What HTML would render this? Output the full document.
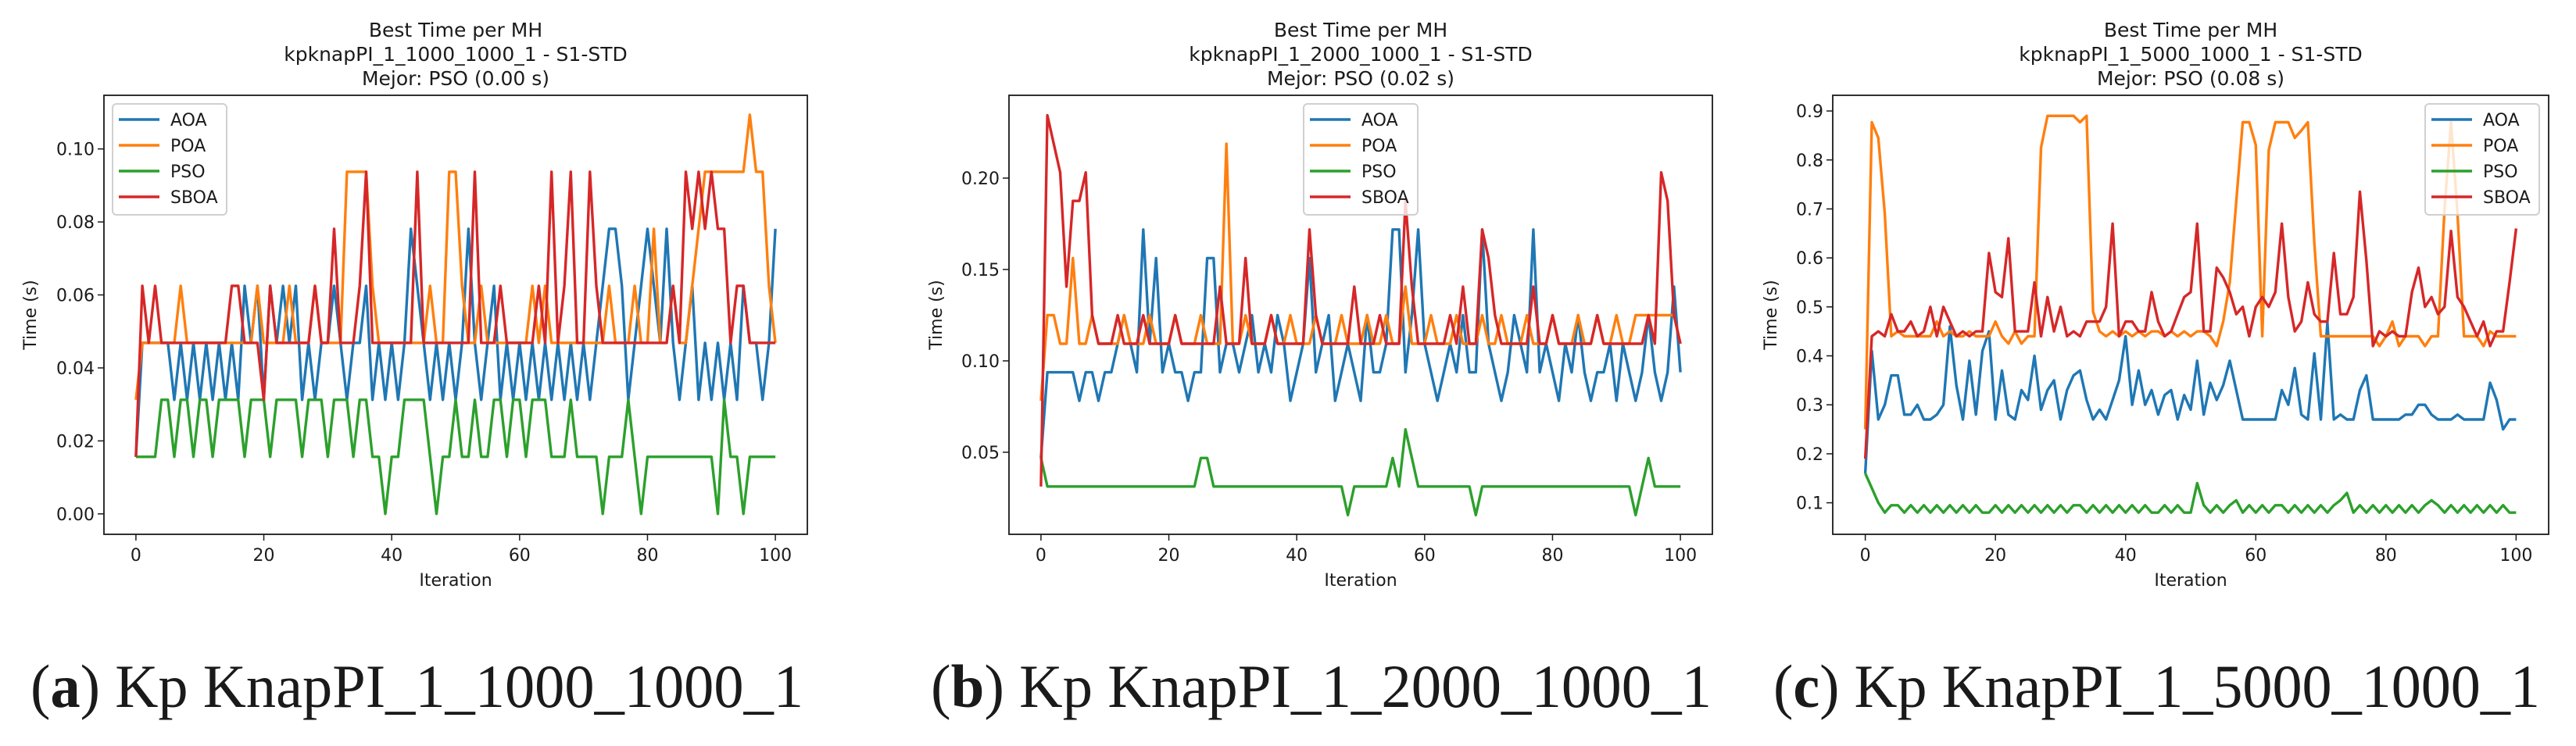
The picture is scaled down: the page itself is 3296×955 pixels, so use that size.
<!DOCTYPE html>
<html><head><meta charset="utf-8"><title>Best Time per MH</title>
<style>html,body{margin:0;padding:0;background:#fff;}svg{display:block;}</style></head>
<body>
<svg id="fig" xmlns="http://www.w3.org/2000/svg" width="3296" height="955" viewBox="0 0 3296 955">
<rect x="0" y="0" width="3296" height="955" fill="#fff"/>
</svg>
<script>
const iterations = Array.from({length:101},(_, i)=>i);
const seriesNames = ["AOA","POA","PSO","SBOA"];
const Q = 1/64;
// Panel (a) values in units of Q seconds
const p1AOA = [1,3,3,3,3,3,2,3,2,3, 2,3,2,3,2,3,2,4,3,4, 2,4,3,4,3,4,2,3,2,3, 3,4,3,2,3,3,4,2,3,2, 3,2,3,5,4,3,2,3,2,3, 2,3,5,3,2,3,4,2,3,2, 3,2,3,2,3,2,3,2,3,2, 3,2,3,4,5,5,4,2,3,4, 5,4,3,5,3,2,3,4,2,3, 2,3,2,3,2,4,3,3,2,3, 5];
const p1POA = [2,3,3,3,3,3,3,4,3,3, 3,3,3,3,3,3,3,3,3,4, 3,3,3,3,4,3,3,3,4,3, 3,3,3,6,6,6,6,4,3,3, 3,3,3,3,3,3,4,3,3,6, 6,4,3,3,4,3,3,3,3,3, 3,3,4,3,4,3,3,3,3,3, 3,3,3,3,4,3,3,3,4,3, 3,5,3,3,4,3,3,4,5,6, 6,6,6,6,6,6,7,6,6,4, 3];
const p1PSO = [1,1,1,1,2,2,1,2,2,1, 2,2,1,2,2,2,2,1,2,2, 2,1,2,2,2,2,1,2,2,2, 1,2,2,2,1,2,2,1,1,0, 1,1,2,2,2,2,1,0,1,1, 2,1,1,2,1,1,2,2,1,2, 2,1,2,2,2,1,1,1,2,1, 1,1,1,0,1,1,1,2,1,0, 1,1,1,1,1,1,1,1,1,1, 1,0,2,1,1,0,1,1,1,1, 1];
const p1SBOA = [1,4,3,4,3,3,3,3,3,3, 3,3,3,3,3,4,4,3,3,3, 2,4,3,3,3,3,3,3,4,3, 3,5,3,3,3,4,6,3,3,3, 3,3,3,3,6,3,3,3,3,3, 3,3,3,6,3,3,3,4,3,3, 3,3,3,4,3,6,3,4,6,3, 3,6,4,3,3,3,3,3,3,3, 3,3,3,3,4,3,6,5,6,5, 6,5,5,3,4,4,3,3,3,3, 3];
// Panel (b) values in units of Q seconds
const p2AOA = [3,6,6,6,6,6,5,6,6,5, 6,6,7,8,7,6,11,7,10,6, 7,6,6,5,6,6,10,10,6,7, 7,6,7,8,6,7,6,8,7,5, 6,7,10,6,7,8,5,6,7,6, 5,8,6,6,7,11,11,6,8,11, 7,6,5,6,7,6,8,6,6,11, 7,6,5,6,8,7,6,11,6,7, 6,5,7,6,8,6,5,6,6,7, 5,7,6,5,6,8,6,5,6,9, 6];
const p2POA = [5,8,8,7,7,10,7,7,8,7, 7,7,7,8,7,7,7,8,7,7, 7,8,7,7,7,8,7,7,7,14, 7,7,8,7,7,7,8,7,7,8, 7,7,7,8,7,7,7,8,7,7, 7,8,7,7,8,7,7,9,7,7, 7,8,7,7,7,8,7,7,7,8, 7,7,8,7,7,7,8,7,7,7, 8,7,7,7,8,7,7,8,7,7, 8,7,7,8,8,8,8,8,8,8, 7];
const p2PSO = [3,2,2,2,2,2,2,2,2,2, 2,2,2,2,2,2,2,2,2,2, 2,2,2,2,2,3,3,2,2,2, 2,2,2,2,2,2,2,2,2,2, 2,2,2,2,2,2,2,2,1,2, 2,2,2,2,2,3,2,4,3,2, 2,2,2,2,2,2,2,2,1,2, 2,2,2,2,2,2,2,2,2,2, 2,2,2,2,2,2,2,2,2,2, 2,2,2,1,2,3,2,2,2,2, 2];
const p2SBOA = [2,15,14,13,9,12,12,13,8,7, 7,7,8,7,7,7,8,7,7,7, 7,8,7,7,7,7,7,7,9,7, 7,7,10,7,7,7,8,7,7,7, 7,7,11,8,7,7,7,7,7,9, 7,7,7,8,7,7,7,12,9,7, 7,7,7,7,8,7,9,7,7,11, 10,8,7,7,7,7,7,9,7,7, 8,7,7,7,7,7,7,8,7,7, 7,7,7,7,7,8,7,13,12,8, 7];
// Panel (c) values in seconds
const p3AOA = [0.16,0.41,0.27,0.30,0.36,0.36,0.28,0.28,0.30,0.27, 0.27,0.28,0.30,0.46,0.34,0.27,0.39,0.28,0.41,0.45, 0.27,0.37,0.28,0.27,0.33,0.31,0.40,0.29,0.33,0.35, 0.27,0.33,0.36,0.37,0.31,0.27,0.29,0.27,0.31,0.35, 0.44,0.30,0.37,0.30,0.33,0.28,0.32,0.33,0.27,0.32, 0.29,
 0.39,0.28,0.345,0.31,0.34,0.39,0.33,0.27,0.27,0.27, 0.27,0.27,0.27,0.33,0.30,0.375,0.28,0.27,0.405,0.27, 0.468,0.27,0.28,0.27,0.27,0.33,0.36,0.27,0.27,0.27, 0.27,0.27,0.28,0.28,0.30,0.30,0.28,0.27,0.27,0.27, 0.28,0.27,0.27,0.27,0.27,0.345,0.31,0.25,0.27,0.27];
const p3POA = [0.25,0.877,0.845,0.69,0.44,0.45,0.44,0.44,0.44,0.44, 0.44,0.47,0.44,0.45,0.44,0.44,0.45,0.44,0.44,0.44, 0.47,0.44,0.425,0.45,0.425,0.44,0.44,0.825,0.89,0.89, 0.89,0.89,0.89,0.877,0.89,0.49,0.45,0.44,0.45,0.44, 0.45,0.44,0.45,0.44,0.45,0.45,0.44,0.45,0.44,0.45, 0.44,
 0.45,0.45,0.44,0.42,0.47,0.55,0.715,0.877,0.877,0.83, 0.44,0.82,0.877,0.877,0.877,0.845,0.86,0.877,0.63,0.44, 0.44,0.44,0.44,0.44,0.44,0.44,0.44,0.44,0.42,0.44, 0.47,0.42,0.44,0.44,0.44,0.42,0.44,0.44,0.70,0.877, 0.69,0.44,0.44,0.44,0.42,0.45,0.44,0.44,0.44,0.44];
const p3PSO = [0.16,0.13,0.10,0.08,0.095,0.095,0.08,0.095,0.08,0.095, 0.08,0.095,0.08,0.095,0.08,0.095,0.08,0.095,0.08,0.08, 0.095,0.08,0.095,0.08,0.095,0.08,0.095,0.08,0.095,0.08, 0.095,0.08,0.095,0.095,0.08,0.095,0.08,0.095,0.08,0.095, 0.08,0.095,0.08,0.095,0.08,0.08,0.095,0.08,0.095,0.08, 0.08,0.14,0.095,0.08,0.095,0.08,0.095,0.105,0.08,0.095, 0.08,0.095,0.08,0.095,0.095,0.08,0.095,0.08,0.095,0.08, 0.095,0.08,0.095,0.105,0.12,0.08,0.095,0.08,0.095,0.08, 0.095,0.08,0.095,0.08,0.095,0.08,0.095,0.105,0.095,0.08, 0.095,0.08,0.095,0.08,0.095,0.08,0.095,0.08,0.095,0.08, 0.08];
const p3SBOA = [0.19,0.44,0.45,0.44,0.485,0.45,0.45,0.47,0.44,0.45, 0.50,0.44,0.50,0.47,0.44,0.45,0.44,0.45,0.45,0.61, 0.53,0.52,0.64,0.45,0.45,0.45,0.55,0.44,0.52,0.45, 0.50,0.44,0.45,0.44,0.47,0.47,0.47,0.50,0.67,0.44, 0.47,0.47,0.45,0.45,0.53,0.47,0.44,0.45,0.485,0.52, 0.53,
 0.67,0.45,0.45,0.58,0.56,0.53,0.485,0.50,0.44,0.50, 0.52,0.50,0.53,0.67,0.52,0.45,0.47,0.55,0.485,0.47, 0.47,0.61,0.485,0.485,0.52,0.735,0.595,0.42,0.45,0.44, 0.45,0.44,0.44,0.53,0.58,0.50,0.52,0.485,0.50,0.655, 0.52,0.50,0.47,0.44,0.47,0.42,0.45,0.45,0.55,0.66];
const xTicks = [0,20,40,60,80,100];
const p1YTicks = [0.00,0.02,0.04,0.06,0.08,0.10];
const p2YTicks = [0.05,0.10,0.15,0.20];
const p3YTicks = [0.1,0.2,0.3,0.4,0.5,0.6,0.7,0.8,0.9];
const titles1 = ["Best Time per MH","kpknapPI_1_1000_1000_1 - S1-STD","Mejor: PSO (0.00 s)"];
const titles2 = ["Best Time per MH","kpknapPI_1_2000_1000_1 - S1-STD","Mejor: PSO (0.02 s)"];
const titles3 = ["Best Time per MH","kpknapPI_1_5000_1000_1 - S1-STD","Mejor: PSO (0.08 s)"];

const NS = "http://www.w3.org/2000/svg";
const svg = document.getElementById('fig');
const COLORS = ["#1f77b4","#ff7f0e","#2ca02c","#d62728"];
const FONT = '"DejaVu Sans", "Liberation Sans", sans-serif';
function mk(tag, attrs, parent){ const e=document.createElementNS(NS,tag); for(const k in attrs) e.setAttribute(k,attrs[k]); (parent||svg).appendChild(e); return e; }

function panel(id, left, right, yMin, yMax, scale, series, yTicks, yFmt, titles, legendX, ylabelX){
  const top=122, bottom=684;
  const g = mk('g',{});
  
  
  const xS = v => left + (v+5)/110*(right-left);
  const yS = v => bottom - (v-yMin)/(yMax-yMin)*(bottom-top);
  const cx=(left+right)/2;
  titles.forEach((t,i)=>{ const e=mk('text',{x:cx,y:47+i*31,'text-anchor':'middle','font-family':FONT,'font-size':25,fill:'#1a1a1a'},g); e.textContent=t;
    
     });
  series.forEach((arr,si)=>{
    const pts = arr.map((v,i)=>xS(iterations[i]).toFixed(1)+','+yS(v*scale).toFixed(1)).join(' ');
    const pl = mk('polyline',{points:pts,fill:'none',stroke:COLORS[si],'stroke-width':3.4,'stroke-linejoin':'round'},g);
    
    
  });
  const fr = mk('rect',{x:left,y:top,width:right-left,height:bottom-top,fill:'none',stroke:'#1a1a1a','stroke-width':1.8},g);
  
  
  xTicks.forEach(t=>{ const x=xS(t); mk('line',{x1:x,y1:bottom,x2:x,y2:bottom+8,stroke:'#1a1a1a','stroke-width':1.5},g);
    const e=mk('text',{x:x,y:718,'text-anchor':'middle','font-family':FONT,'font-size':22,fill:'#1a1a1a'},g); e.textContent=String(t);
    
     });
  const xl=mk('text',{x:cx,y:750,'text-anchor':'middle','font-family':FONT,'font-size':22,fill:'#1a1a1a'},g); xl.textContent='Iteration';
  
  
  yTicks.forEach(t=>{ const y=yS(t); mk('line',{x1:left-8,y1:y,x2:left,y2:y,stroke:'#1a1a1a','stroke-width':1.5},g);
    const e=mk('text',{x:left-12,y:y+8,'text-anchor':'end','font-family':FONT,'font-size':22,fill:'#1a1a1a'},g); e.textContent=t.toFixed(yFmt);
    
     });
  const yl=mk('text',{x:ylabelX,y:(top+bottom)/2,'text-anchor':'middle','font-family':FONT,'font-size':22,fill:'#1a1a1a',transform:`rotate(-90 ${ylabelX} ${(top+bottom)/2})`},g); yl.textContent='Time (s)';
  
  
  const lg = mk('g',{},g);
  
  
  mk('rect',{x:legendX,y:133,width:146,height:142,rx:5,fill:'#fff','fill-opacity':0.8,stroke:'#d0d0d0','stroke-width':2},lg);
  seriesNames.forEach((n,i)=>{ const y=153+i*33;
    mk('line',{x1:legendX+8,y1:y,x2:legendX+60,y2:y,stroke:COLORS[i],'stroke-width':3.4},lg);
    const e=mk('text',{x:legendX+74,y:y+8,'font-family':FONT,'font-size':22,fill:'#1a1a1a'},lg); e.textContent=n;
    
     });
}
panel('a',133,1033,-0.0056,0.1147,Q,[p1AOA,p1POA,p1PSO,p1SBOA],p1YTicks,2,titles1,144,46);
panel('b',1291,2191,0.0051,0.2453,Q,[p2AOA,p2POA,p2PSO,p2SBOA],p2YTicks,2,titles2,1668,1205);
panel('c',2345,3261,0.0356,0.932,1,[p3AOA,p3POA,p3PSO,p3SBOA],p3YTicks,1,titles3,3103,2273);

const caps=[["a"," Kp KnapPI_1_1000_1000_1",39,989],["b"," Kp KnapPI_1_2000_1000_1",1191,999],["c"," Kp KnapPI_1_5000_1000_1",2269,981]];
caps.forEach(c=>{
  const t=mk('text',{x:c[2],y:905,'font-family':'"Liberation Serif", serif','font-size':78,fill:'#1a1a1a',textLength:c[3],lengthAdjust:'spacingAndGlyphs'});
  
  
  const s1=mk('tspan',{},t); s1.textContent='(';
  const s2=mk('tspan',{'font-weight':'bold'},t); s2.textContent=c[0];
  const s3=mk('tspan',{},t); s3.textContent=')'+c[1];
});
</script>
</body></html>
